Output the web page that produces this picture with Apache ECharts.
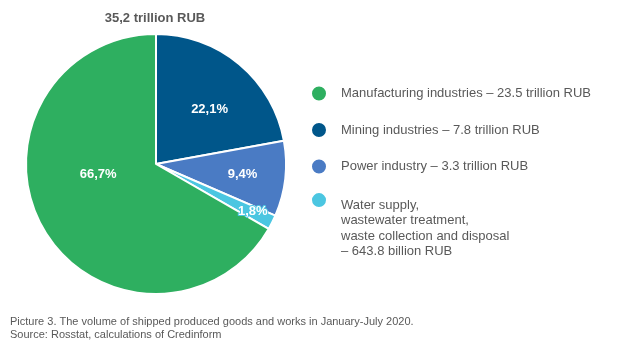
<!DOCTYPE html>
<html>
<head>
<meta charset="utf-8">
<script src="https://cdn.jsdelivr.net/npm/echarts@6/dist/echarts.min.js"></script>
<style>
  html, body { margin: 0; padding: 0; background: #fff; }
  #main { width: 620px; height: 351px; }
</style>
</head>
<body>
<div id="main"></div>
<script>
// 数据
var names = ['Mining', 'Power', 'Water', 'Manufacturing'];
var values = [7.8, 3.3, 0.6438, 23.5];
var legendText = {
  Manufacturing: 'Manufacturing industries – 23.5 trillion RUB',
  Mining: 'Mining industries – 7.8 trillion RUB',
  Power: 'Power industry – 3.3 trillion RUB',
  Water: 'Water supply,\nwastewater treatment,\nwaste collection and disposal\n– 643.8 billion RUB'
};
var totalText = '35,2 trillion RUB';
var caption = 'Picture 3. The volume of shipped produced goods and works in January-July 2020.\nSource: Rosstat, calculations of Credinform';

(function() {
  var myChart = echarts.init(document.getElementById('main'));

  var colors = ['#00568a', '#4a7bc4', '#4bc6e1', '#2eaf60'];
  // label offsets from the 'inside' spot
  var offsets = [[10, -2], [19, 3], [36, 17], [1, -24]];

  var total = 0;
  for (var i = 0; i < values.length; i++) total += values[i];

  var data = [];
  for (i = 0; i < names.length; i++) {
    var item = {
      name: names[i],
      value: values[i],
      itemStyle: { color: colors[i] },
      label: { offset: offsets[i] }
    };
    if (names[i] === 'Water') {
      item.label.textBorderColor = colors[i];
      item.label.textBorderWidth = 2;
    }
    data.push(item);
  }

  var option = {
    animation: false,
    title: [{
      text: totalText,
      left: 155,
      top: 11.5,
      padding: 0,
      textAlign: 'center',
      textStyle: {
        color: '#595959',
        fontSize: 13,
        fontWeight: 'bold',
        fontFamily: 'Liberation Sans, Arial'
      }
    }, {
      text: caption,
      left: 10,
      top: 316,
      padding: 0,
      textStyle: {
        color: '#595959',
        fontSize: 11,
        fontWeight: 'normal',
        lineHeight: 12.6,
        fontFamily: 'Liberation Sans, Arial'
      }
    }],
    legend: [{
      orient: 'vertical',
      left: 310,
      top: 84.5,
      padding: 0,
      itemWidth: 16,
      itemHeight: 16,
      itemGap: 18.5,
      icon: 'circle',
      data: ['Manufacturing', 'Mining', 'Power'],
      formatter: function(name) { return legendText[name]; },
      textStyle: {
        color: '#595959',
        fontSize: 13,
        padding: [0, 0, 0, 9],
        fontFamily: 'Liberation Sans, Arial'
      }
    }, {
      orient: 'vertical',
      left: 310,
      top: 143.5,
      padding: 0,
      itemWidth: 16,
      itemHeight: 16,
      icon: 'circle',
      data: ['Water'],
      // blank lines on top keep the first text line level with the dot
      formatter: function(name) {
        var lines = legendText[name].split('\n');
        var s = '{g| }\n{g| }\n{g| }';
        for (var k = 0; k < lines.length; k++) s += '\n{t|' + lines[k] + '}';
        return s;
      },
      textStyle: {
        color: '#595959',
        fontSize: 13,
        padding: [0, 0, 0, 9],
        fontFamily: 'Liberation Sans, Arial',
        rich: {
          g: { fontSize: 13, lineHeight: 18.9 },
          t: { color: '#595959', fontSize: 13, lineHeight: 15.6, fontFamily: 'Liberation Sans, Arial' }
        }
      }
    }],
    series: [{
      type: 'pie',
      center: [156, 164],
      radius: 130,
      startAngle: 90,
      clockwise: true,
      silent: true,
      itemStyle: {
        borderColor: '#fff',
        borderWidth: 2
      },
      label: {
        show: true,
        position: 'inside',
        color: '#fff',
        fontSize: 13,
        fontWeight: 'bold',
        fontFamily: 'Liberation Sans, Arial',
        formatter: function(p) {
          return (p.value / total * 100).toFixed(1).replace('.', ',') + '%';
        }
      },
      labelLine: { show: false },
      data: data
    }]
  };

  myChart.setOption(option);
  window.addEventListener('resize', function() {
    myChart.resize();
  });
})();
</script>
</body>
</html>
